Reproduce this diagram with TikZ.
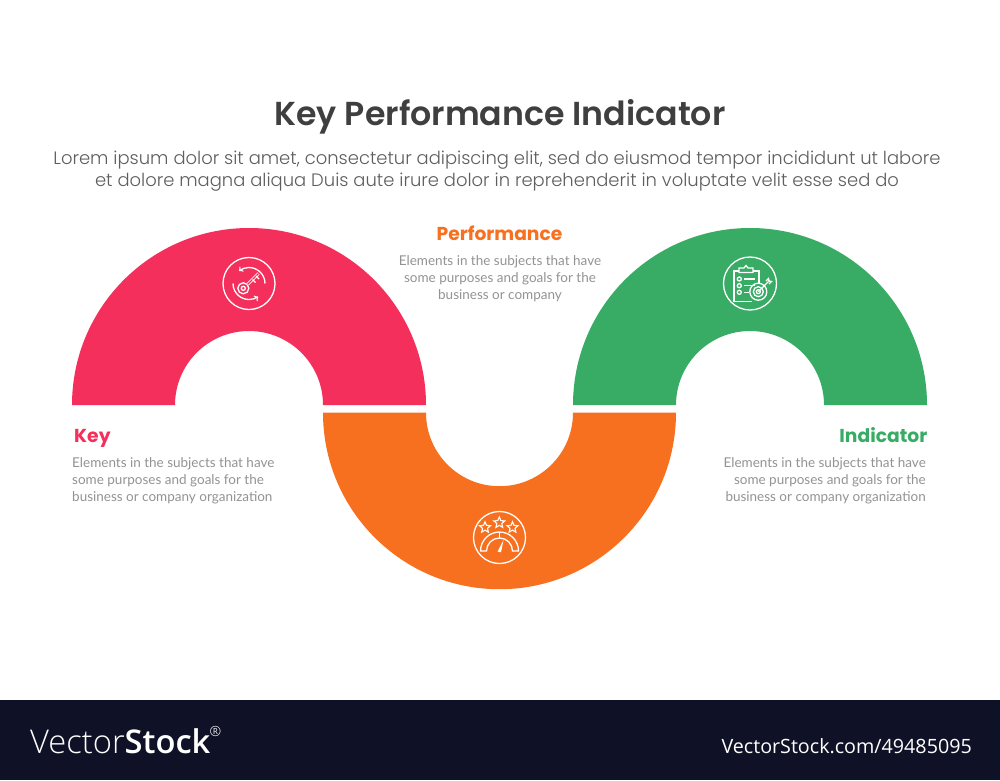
\documentclass[tikz,border=0pt]{standalone}
\usepackage{fontspec}
\setmainfont{Lato}
\newfontfamily\titlefont{Poppins}[UprightFont=* SemiBold,BoldFont=* SemiBold]
\newfontfamily\headfont{Poppins}[UprightFont=* Bold,BoldFont=* Bold]
\newfontfamily\leadfont{Poppins}[UprightFont=* Light]
\newfontfamily\stocklight{Open Sans Light}
\newfontfamily\stockbold{Open Sans}[UprightFont=* Semibold]
\newfontfamily\stockplain{Open Sans}
\usetikzlibrary{shapes.geometric}
\definecolor{keyred}{HTML}{F52F5B}
\definecolor{perforange}{HTML}{F6701F}
\definecolor{indgreen}{HTML}{38AB65}
\definecolor{titlegray}{HTML}{3F3F3F}
\definecolor{leadgray}{HTML}{5E5E5E}
\definecolor{bodygray}{HTML}{939393}
\definecolor{stockband}{HTML}{0F1226}
\tikzset{
  iconline/.style={draw=white,line width=1.3pt,fill=none},
  bodytext/.style={text=bodygray,font=\fontsize{13.5}{17}\selectfont,inner sep=0pt},
  headtext/.style={font=\headfont\fontsize{18.7}{22}\selectfont,inner sep=0pt},
  leadtext/.style={text=leadgray,font=\leadfont\fontsize{17.95}{22}\selectfont,align=center,inner sep=0pt},
}
\begin{document}
\begin{tikzpicture}[x=1pt,y=-1pt]
\useasboundingbox (0,0) rectangle (1000,780);
\fill[white] (0,0) rectangle (1000,780);
\fill[stockband] (0,700) rectangle (1000,780); % footer band

% half rings
\fill[keyred] (72,405) arc (180:360:177) -- (323,405) arc (360:180:74) -- cycle;
\fill[indgreen] (573,405) arc (180:360:177) -- (824,405) arc (360:180:74) -- cycle;
\fill[perforange] (323,412.7) arc (180:0:176.5) -- (573,412.7) arc (0:180:73.5) -- cycle;

% title
\node[text=titlegray,font=\titlefont\fontsize{33.2}{36}\selectfont,inner sep=0pt] (title) at (500,116.5) {Key Performance Indicator};
\node[leadtext] (lead) at (497,171) {Lorem ipsum dolor sit amet, consectetur adipiscing elit, sed do eiusmod tempor incididunt ut labore\\et dolore magna aliqua Duis aute irure dolor in reprehenderit in voluptate velit esse sed do};

% labels
\node[headtext,text=keyred,anchor=base west] (keyhead) at (74,442.5) {Key};
\node[bodytext,anchor=north west,align=left] (keybody) at (72,457) {Elements in the subjects that have\\some purposes and goals for the\\business or company organization};
\node[headtext,text=perforange,anchor=base] (perfhead) at (499.5,240.5) {Performance};
\node[bodytext,anchor=north,align=center] (perfbody) at (500,255) {Elements in the subjects that have\\some purposes and goals for the\\business or company};
\node[headtext,text=indgreen,anchor=base east] (indhead) at (927.5,442.5) {Indicator};
\node[bodytext,anchor=north east,align=right] (indbody) at (926,457) {Elements in the subjects that have\\some purposes and goals for the\\business or company organization};

% key icon
\draw[iconline] (249,283.5) circle (26);
\draw[iconline,->] (265,283.5) arc (0:-128:16); % upper turn
\draw[iconline,->] (233,283.5) arc (180:55:16); % lower turn
\draw[iconline] (243.3,288.3) circle (5.5);
\draw[iconline] (243.3,288.3) circle (2);
\draw[draw=white,line width=.9pt,double=keyred,double distance=1.2pt] (247.5,284.4) -- (258.5,273.5);
\foreach \t in {0,3.5} % key teeth
\draw[iconline,shift={(\t,-\t)}] (252.5,279.5) -- (255.5,282.5);

% clipboard icon
\draw[iconline] (750,283.5) circle (26.5);
\draw[iconline] (739,271) -- (734,271) -- (734,301.5) -- (752,301.5);
\draw[iconline] (753,271) -- (759,271) -- (759,283);
\draw[iconline] (739,272.5) -- (739,268) -- (744,268) -- (746,265.5) -- (748,268) -- (753,268) -- (753,272.5) -- cycle;
\foreach \y/\e in {279/755,285.7/755,292.3/749} { % list rows
\draw[iconline] (739.3,\y) circle (2);
\draw[iconline] (744,\y) -- (\e,\y);
}
\foreach \r in {2,5,8.5}
\draw[iconline] (758.3,291.7) circle (\r);
\draw[iconline] (758.3,291.7) -- (768.5,281.5);
\draw[iconline] (766,281) -- (768.5,278.5) -- (769,281) -- (771.5,281.5) -- (769,284);

% gauge icon
\draw[iconline] (499.5,537.5) circle (26);
\foreach \sx/\sy/\n in {485/527.5/a,499.3/522.7/b,512.5/527.5/c}
\node[star,star points=5,star point ratio=2.2,draw=white,line width=1.1pt,inner sep=0pt,minimum size=11.5pt] (star\n) at (\sx,\sy) {};
\draw[iconline] (480.5,551) arc (180:360:19) -- (512.5,551) arc (360:180:13) -- cycle;
\draw[iconline] (499.5,532) -- (499.5,538);
\fill[white] (497.7,551.5) -- (503.5,540) -- (501,552.3) -- cycle; % needle

% footer
\node[text=white,anchor=west,inner sep=0pt,font=\fontsize{32.7}{40}\selectfont] (stocklogo) at (30,741.5) {{\stocklight Vector}{\stockbold Stock}};
\node[text=white,inner sep=0pt,font=\stocklight\fontsize{14}{16}\selectfont] (stockmark) at (215.5,731) {®};
\node[text=white,anchor=east,inner sep=0pt,font=\stockplain\fontsize{19.7}{22}\selectfont] (stockid) at (972,746) {VectorStock.com/49485095};
\end{tikzpicture}
\end{document}
